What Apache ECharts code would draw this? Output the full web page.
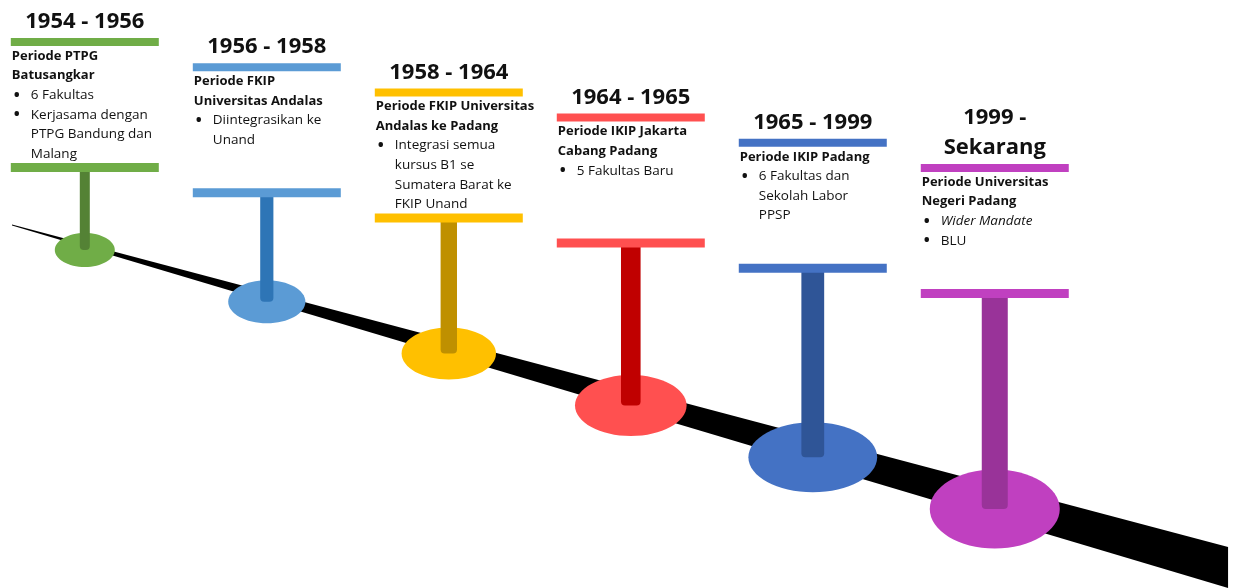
<!DOCTYPE html>
<html>
<head>
<meta charset="UTF-8">
<title>Sejarah UNP</title>
<script src="https://cdn.jsdelivr.net/npm/echarts@6/dist/echarts.min.js"></script>
<style>html,body{margin:0;padding:0;background:#fff;}</style>
</head>
<body>
<div id="container" style="width:1233px;height:588px;"></div>
<script>
// isi tiap periode
var years = ['1954 - 1956', '1956 - 1958', '1958 - 1964', '1964 - 1965', '1965 - 1999', '1999 -\nSekarang'];
var periods = [
    'Periode PTPG\nBatusangkar',
    'Periode FKIP\nUniversitas Andalas',
    'Periode FKIP Universitas\nAndalas ke Padang',
    'Periode IKIP Jakarta\nCabang Padang',
    'Periode IKIP Padang',
    'Periode Universitas\nNegeri Padang'
];
var notes = [
    ['6 Fakultas', 'Kerjasama dengan\nPTPG Bandung dan\nMalang'],
    ['Diintegrasikan ke\nUnand'],
    ['Integrasi semua\nkursus B1 se\nSumatera Barat ke\nFKIP Unand'],
    ['5 Fakultas Baru'],
    ['6 Fakultas dan\nSekolah Labor\nPPSP'],
    ['{i|Wider Mandate}', 'BLU']
];

// warna
var light = ['#70AD47', '#5B9BD5', '#FFC000', '#FF5050', '#4472C4', '#C040C0'];
var dark = ['#548235', '#2E75B6', '#BF9000', '#C00000', '#2F5597', '#993399'];

var chart = echarts.init(document.getElementById('container'), null, { renderer: 'canvas' });

function drawRoad(params, api) {
    // pita hitam miring, makin tebal ke kanan
    var a = api.coord([-0.4, 224.5]), b = api.coord([6.282, 547]);
    var c = api.coord([6.282, 588]), d = api.coord([-0.4, 225.5]);
    return {
        type: 'polygon',
        shape: { points: [a, b, c, d] },
        style: { fill: '#000' }
    };
}

function drawPeriod(params, api) {
    var i = api.value(0);
    var top = 38 + 25.2 * i;
    var p = api.coord([i, top]);
    var cx = p[0], yTop = p[1];
    var yLow = api.coord([i, top + 125])[1];
    var base = api.coord([i, 250 + 51.8 * i])[1];
    var rx = Math.min(30 + 8.6 * i, 65), ry = 17 + 4.5 * i;
    var stemW = 10 + 3.2 * i;
    var left = cx - 73;
    var lh = 19.6;
    var font = '"Open Sans", sans-serif';

    var children = [
        { type: 'ellipse', shape: { cx: cx, cy: base, rx: rx, ry: ry }, style: { fill: light[i] } },
        { type: 'rect', shape: { x: cx - stemW / 2, y: yLow + 8, width: stemW, height: base - yLow - 8, r: [0, 0, 4, 4] }, style: { fill: dark[i] } },
        { type: 'rect', shape: { x: cx - 74, y: yTop, width: 148, height: 8 }, style: { fill: light[i] } },
        { type: 'rect', shape: { x: cx - 74, y: yLow, width: 148, height: 9 }, style: { fill: light[i] } },
        {
            type: 'text', x: cx, y: yTop - 1,
            style: {
                text: years[i], fontFamily: font, fontWeight: 'bold', fontSize: 22,
                fill: '#111', align: 'center', verticalAlign: 'bottom', lineHeight: 30
            }
        },
        {
            type: 'text', x: left, y: yTop + 8.2,
            style: {
                text: periods[i], fontFamily: font, fontWeight: 'bold', fontSize: 13,
                fill: '#111', align: 'left', verticalAlign: 'top', lineHeight: lh
            }
        }
    ];

    var line = periods[i].split('\n').length;
    notes[i].forEach(function (t) {
        var y = yTop + 8.2 + line * lh;
        children.push({
            type: 'text', x: left + 5, y: y,
            style: { text: '•', fontFamily: font, fontWeight: 'bold', fontSize: 16, fill: '#111', align: 'center', verticalAlign: 'top', lineHeight: lh }
        });
        children.push({
            type: 'text', x: left + 19, y: y,
            style: {
                text: t, fontFamily: font, fontSize: 13.5, fill: '#111', align: 'left', verticalAlign: 'top', lineHeight: lh,
                rich: { i: { fontFamily: font, fontSize: 13.5, fontStyle: 'italic', fill: '#111', lineHeight: lh } }
            }
        });
        line += t.split('\n').length;
    });

    return { type: 'group', children: children };
}

var option = {
    animation: false,
    grid: { left: 0, right: 0, top: 0, bottom: 0 },
    xAxis: { type: 'value', min: -0.466, max: 6.309, show: false },
    yAxis: { type: 'value', min: 0, max: 588, inverse: true, show: false },
    series: [{
        type: 'custom',
        silent: true,
        renderItem: drawRoad,
        data: [[0]],
        z: 1
    }, {
        type: 'custom',
        silent: true,
        renderItem: drawPeriod,
        data: years.map(function (y, i) { return [i]; }),
        z: 2
    }]
};
chart.setOption(option);
</script>
</body>
</html>
